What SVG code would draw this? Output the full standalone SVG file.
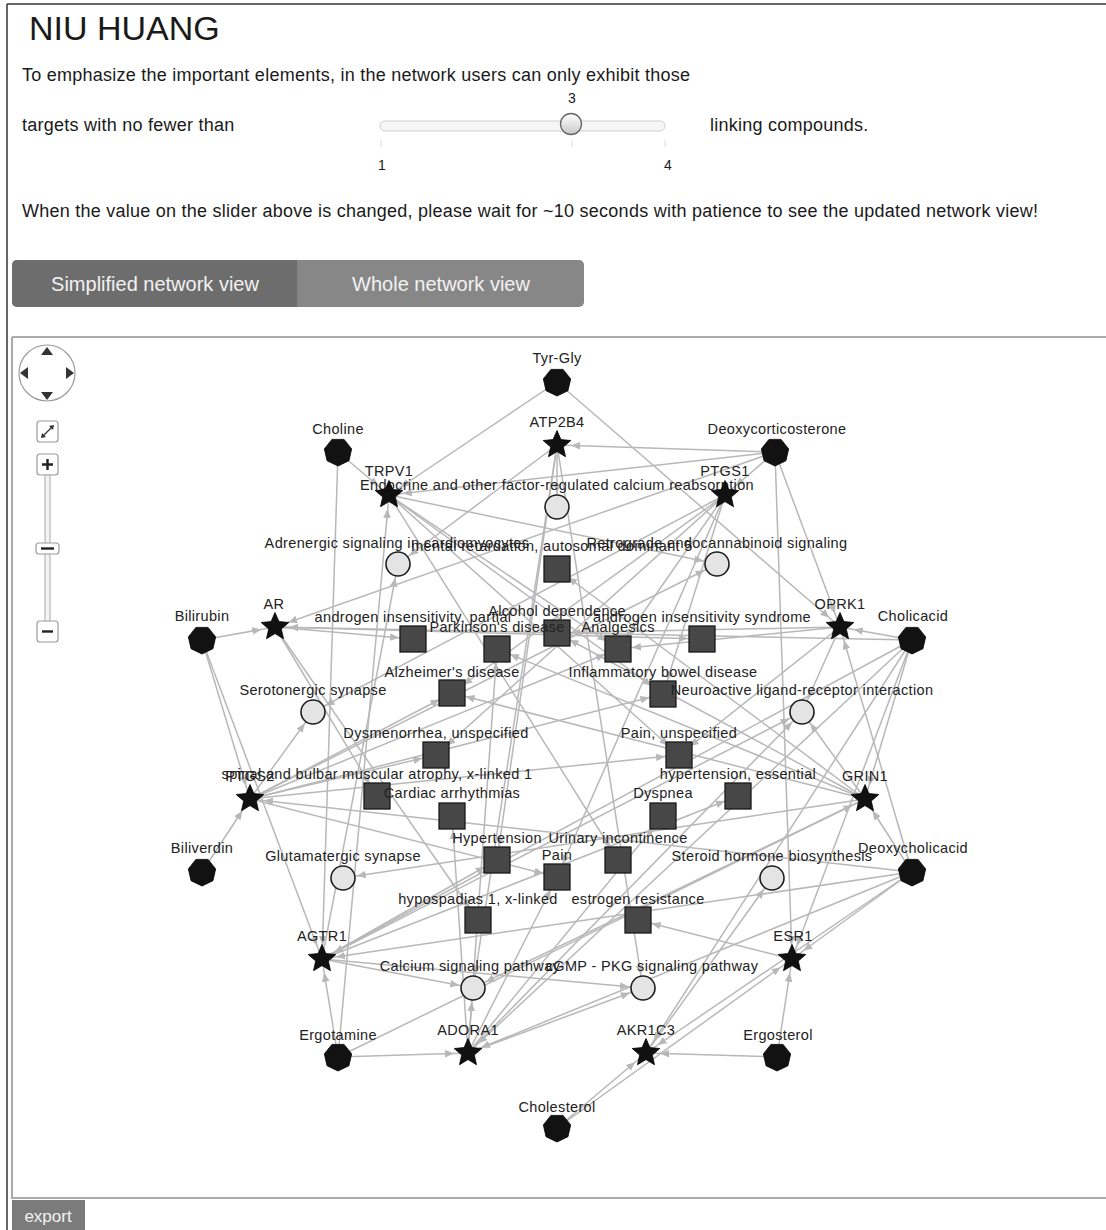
<svg xmlns="http://www.w3.org/2000/svg" xmlns:xlink="http://www.w3.org/1999/xlink" width="1106" height="1230" viewBox="0 0 1106 1230">
  <style>
    .ui { font-family: "Liberation Sans", Arial, sans-serif; fill: #1a1a1a; }
    .para { font-size: 18px; letter-spacing: 0.25px; }
    .lbl { font-family: "Liberation Sans", Arial, sans-serif; font-size: 14.5px; letter-spacing: 0.35px; fill: #222; text-anchor: middle; }
    .edge line { stroke: #b8b8b8; stroke-width: 1.5; marker-end: url(#ah); }
    .cpd { fill: #121212; stroke: #000; stroke-width: 0.8; }
    .tgt { fill: #111; stroke: #000; stroke-width: 0.8; }
    .pw { fill: #e4e4e4; stroke: #1e1e1e; stroke-width: 1.6; }
    .dz { fill: #474747; stroke: #1a1a1a; stroke-width: 1.3; }
    .btn { fill: #fff; stroke: #9a9a9a; stroke-width: 1.2; }
    .tab { font-family: "Liberation Sans", Arial, sans-serif; font-size: 20px; fill: #f2f2f2; text-anchor: middle; }
  </style>
  <defs>
    <marker id="ah" markerUnits="userSpaceOnUse" viewBox="0 0 30 10" refX="23" refY="5" markerWidth="30" markerHeight="10" orient="auto">
      <path d="M0,1.2 L9,5 L0,8.8 z" fill="#b8b8b8"/>
    </marker>
    <path id="hept" d="M0,14 L-10.94,8.73 L-13.65,-3.12 L-6.07,-12.61 L6.07,-12.61 L13.65,-3.12 L10.94,8.73 Z"/>
    <path id="star" d="M0,-14.5 L3.9,-5.4 L13.8,-4.5 L6.3,2 L8.5,11.7 L0,6.6 L-8.5,11.7 L-6.3,2 L-13.8,-4.5 L-3.9,-5.4 Z"/>
    <linearGradient id="thumb" x1="0" y1="0" x2="0" y2="1">
      <stop offset="0" stop-color="#ffffff"/>
      <stop offset="1" stop-color="#c8c8c8"/>
    </linearGradient>
  </defs>

  <rect x="0" y="0" width="1106" height="1230" fill="#fff"/>
  <!-- page frame -->
  <line x1="7" y1="4" x2="1106" y2="4" stroke="#333" stroke-width="1.5"/>
  <line x1="7" y1="4" x2="7" y2="1230" stroke="#333" stroke-width="1.5"/>

  <!-- header -->
  <g id="header">
    <text class="ui" x="29" y="40" font-size="34">NIU HUANG</text>
    <text class="ui para" x="22" y="81">To emphasize the important elements, in the network users can only exhibit those</text>
    <text class="ui para" x="22" y="131">targets with no fewer than</text>
    <text class="ui para" x="710" y="131">linking compounds.</text>
    <text class="ui para" x="22" y="217">When the value on the slider above is changed, please wait for ~10 seconds with patience to see the updated network view!</text>
  </g>

  <!-- threshold slider -->
  <g id="slider">
    <rect x="380" y="121" width="285" height="10" rx="5" fill="#f6f6f6" stroke="#cfcfcf" stroke-width="1"/>
    <line x1="381" y1="140" x2="381" y2="147" stroke="#ddd"/>
    <line x1="572" y1="140" x2="572" y2="147" stroke="#ddd"/>
    <line x1="665" y1="140" x2="665" y2="147" stroke="#ddd"/>
    <circle cx="571" cy="124" r="10.5" fill="url(#thumb)" stroke="#666" stroke-width="1.3"/>
    <text class="ui" x="572" y="103" font-size="14" text-anchor="middle">3</text>
    <text class="ui" x="382" y="170" font-size="14" text-anchor="middle">1</text>
    <text class="ui" x="668" y="170" font-size="14" text-anchor="middle">4</text>
  </g>

  <!-- view tabs -->
  <g id="tabs">
    <rect x="12" y="260" width="572" height="47" rx="5" fill="#878787"/>
    <path d="M17,260 H297 V307 H17 A5,5 0 0 1 12,302 V265 A5,5 0 0 1 17,260 Z" fill="#6d6d6d"/>
    <text class="tab" x="155" y="291">Simplified network view</text>
    <text class="tab" x="441" y="291">Whole network view</text>
  </g>

  <!-- network panel frame -->
  <line x1="12" y1="337" x2="1106" y2="337" stroke="#aaa" stroke-width="2"/>
  <line x1="12" y1="337" x2="12" y2="1199" stroke="#aaa" stroke-width="2"/>
  <line x1="12" y1="1198" x2="1106" y2="1198" stroke="#aaa" stroke-width="2"/>

  <!-- navigation controls -->
  <g id="navigator">
    <circle cx="47" cy="373" r="28" fill="#fff" stroke="#9a9a9a" stroke-width="1.2"/>
    <path d="M47,347 l-6,8 h12 z" fill="#333"/>
    <path d="M47,400 l-6,-8 h12 z" fill="#333"/>
    <path d="M20,373 l8,-6 v12 z" fill="#333"/>
    <path d="M74,373 l-8,-6 v12 z" fill="#333"/>
  </g>
  <g id="fit-button">
    <rect class="btn" x="37" y="421" width="21" height="21" rx="3"/>
    <line x1="43" y1="436" x2="52" y2="427" stroke="#333" stroke-width="1.2"/>
    <path d="M41,438 l1,-5 l4,4 z M54,425 l-1,5 l-4,-4 z" fill="#333"/>
  </g>
  <g id="zoom-in">
    <rect class="btn" x="37" y="454" width="21" height="21" rx="3"/>
    <path d="M42,464.5 h11 M47.5,459 v11" stroke="#222" stroke-width="2.4"/>
  </g>
  <g id="zoom-track">
    <rect x="45" y="475" width="5" height="147" fill="#f4f4f4" stroke="#aaa" stroke-width="1"/>
    <rect class="btn" x="36" y="543" width="23" height="11" rx="3"/>
    <line x1="41" y1="548.5" x2="54" y2="548.5" stroke="#222" stroke-width="2.4"/>
  </g>
  <g id="zoom-out">
    <rect class="btn" x="37" y="621" width="21" height="21" rx="3"/>
    <line x1="42" y1="631.5" x2="53" y2="631.5" stroke="#222" stroke-width="2.4"/>
  </g>

  <!-- connectors: compounds to targets, targets to diseases and pathways -->
  <g id="edges" class="edge">
    <line x1="557" y1="382" x2="389" y2="495"/>
    <line x1="557" y1="382" x2="840" y2="627"/>
    <line x1="338" y1="452" x2="389" y2="495"/>
    <line x1="338" y1="452" x2="322" y2="959"/>
    <line x1="775" y1="452" x2="557" y2="445"/>
    <line x1="775" y1="452" x2="725" y2="495"/>
    <line x1="775" y1="452" x2="840" y2="627"/>
    <line x1="775" y1="452" x2="792" y2="959"/>
    <line x1="775" y1="452" x2="275" y2="627"/>
    <line x1="775" y1="452" x2="389" y2="495"/>
    <line x1="202" y1="640" x2="275" y2="627"/>
    <line x1="202" y1="640" x2="250" y2="799"/>
    <line x1="202" y1="640" x2="322" y2="959"/>
    <line x1="202" y1="872" x2="250" y2="799"/>
    <line x1="912" y1="640" x2="275" y2="627"/>
    <line x1="912" y1="640" x2="840" y2="627"/>
    <line x1="912" y1="640" x2="865" y2="799"/>
    <line x1="912" y1="640" x2="646" y2="1053"/>
    <line x1="912" y1="640" x2="792" y2="959"/>
    <line x1="912" y1="640" x2="468" y2="1053"/>
    <line x1="912" y1="640" x2="322" y2="959"/>
    <line x1="912" y1="872" x2="865" y2="799"/>
    <line x1="912" y1="872" x2="840" y2="627"/>
    <line x1="912" y1="872" x2="792" y2="959"/>
    <line x1="912" y1="872" x2="646" y2="1053"/>
    <line x1="912" y1="872" x2="468" y2="1053"/>
    <line x1="912" y1="872" x2="322" y2="959"/>
    <line x1="912" y1="872" x2="250" y2="799"/>
    <line x1="338" y1="1057" x2="468" y2="1053"/>
    <line x1="338" y1="1057" x2="322" y2="959"/>
    <line x1="338" y1="1057" x2="389" y2="495"/>
    <line x1="338" y1="1057" x2="865" y2="799"/>
    <line x1="777" y1="1057" x2="646" y2="1053"/>
    <line x1="777" y1="1057" x2="792" y2="959"/>
    <line x1="557" y1="1128" x2="646" y2="1053"/>
    <line x1="557" y1="1128" x2="792" y2="959"/>

    <line x1="275" y1="627" x2="413" y2="639"/>
    <line x1="275" y1="627" x2="702" y2="639"/>
    <line x1="275" y1="627" x2="377" y2="796"/>
    <line x1="275" y1="627" x2="478" y2="920"/>
    <line x1="557" y1="445" x2="557" y2="507"/>
    <line x1="557" y1="445" x2="473" y2="988"/>
    <line x1="557" y1="445" x2="643" y2="988"/>
    <line x1="557" y1="445" x2="398" y2="564"/>
    <line x1="557" y1="445" x2="497" y2="860"/>
    <line x1="389" y1="495" x2="618" y2="860"/>
    <line x1="389" y1="495" x2="663" y2="694"/>
    <line x1="389" y1="495" x2="679" y2="755"/>
    <line x1="389" y1="495" x2="618" y2="649"/>
    <line x1="389" y1="495" x2="717" y2="564"/>
    <line x1="725" y1="495" x2="618" y2="649"/>
    <line x1="725" y1="495" x2="557" y2="877"/>
    <line x1="725" y1="495" x2="436" y2="755"/>
    <line x1="725" y1="495" x2="313" y2="712"/>
    <line x1="725" y1="495" x2="452" y2="693"/>
    <line x1="725" y1="495" x2="663" y2="694"/>
    <line x1="840" y1="627" x2="802" y2="712"/>
    <line x1="840" y1="627" x2="618" y2="649"/>
    <line x1="840" y1="627" x2="557" y2="633"/>
    <line x1="840" y1="627" x2="679" y2="755"/>
    <line x1="250" y1="799" x2="313" y2="712"/>
    <line x1="250" y1="799" x2="436" y2="755"/>
    <line x1="250" y1="799" x2="452" y2="693"/>
    <line x1="250" y1="799" x2="557" y2="877"/>
    <line x1="250" y1="799" x2="618" y2="649"/>
    <line x1="250" y1="799" x2="663" y2="694"/>
    <line x1="250" y1="799" x2="717" y2="564"/>
    <line x1="250" y1="799" x2="679" y2="755"/>
    <line x1="865" y1="799" x2="802" y2="712"/>
    <line x1="865" y1="799" x2="343" y2="878"/>
    <line x1="865" y1="799" x2="452" y2="693"/>
    <line x1="865" y1="799" x2="557" y2="633"/>
    <line x1="865" y1="799" x2="557" y2="569"/>
    <line x1="865" y1="799" x2="497" y2="649"/>
    <line x1="865" y1="799" x2="473" y2="988"/>
    <line x1="322" y1="959" x2="473" y2="988"/>
    <line x1="322" y1="959" x2="643" y2="988"/>
    <line x1="322" y1="959" x2="398" y2="564"/>
    <line x1="322" y1="959" x2="497" y2="860"/>
    <line x1="322" y1="959" x2="738" y2="796"/>
    <line x1="322" y1="959" x2="802" y2="712"/>
    <line x1="792" y1="959" x2="638" y2="920"/>
    <line x1="468" y1="1053" x2="473" y2="988"/>
    <line x1="468" y1="1053" x2="643" y2="988"/>
    <line x1="468" y1="1053" x2="802" y2="712"/>
    <line x1="468" y1="1053" x2="452" y2="816"/>
    <line x1="468" y1="1053" x2="663" y2="816"/>
    <line x1="468" y1="1053" x2="557" y2="877"/>
    <line x1="468" y1="1053" x2="497" y2="649"/>
    <line x1="646" y1="1053" x2="772" y2="878"/>
  </g>

  <!-- diseases -->
  <g id="n-mr5"><rect class="dz" x="544" y="556" width="26" height="26"/><text class="lbl" x="552" y="551">mental retardation, autosomal dominant 5</text></g>
  <g id="n-aip"><rect class="dz" x="400" y="626" width="26" height="26"/><text class="lbl" x="413" y="622">androgen insensitivity, partial</text></g>
  <g id="n-ais"><rect class="dz" x="689" y="626" width="26" height="26"/><text class="lbl" x="702" y="622">androgen insensitivity syndrome</text></g>
  <g id="n-alc"><rect class="dz" x="544" y="620" width="26" height="26"/><text class="lbl" x="557" y="616">Alcohol dependence</text></g>
  <g id="n-park"><rect class="dz" x="484" y="636" width="26" height="26"/><text class="lbl" x="497" y="632">Parkinson's disease</text></g>
  <g id="n-analg"><rect class="dz" x="605" y="636" width="26" height="26"/><text class="lbl" x="618" y="632">Analgesics</text></g>
  <g id="n-alz"><rect class="dz" x="439" y="680" width="26" height="26"/><text class="lbl" x="452" y="677">Alzheimer's disease</text></g>
  <g id="n-ibd"><rect class="dz" x="650" y="681" width="26" height="26"/><text class="lbl" x="663" y="677">Inflammatory bowel disease</text></g>
  <g id="n-dysm"><rect class="dz" x="423" y="742" width="26" height="26"/><text class="lbl" x="436" y="738">Dysmenorrhea, unspecified</text></g>
  <g id="n-painu"><rect class="dz" x="666" y="742" width="26" height="26"/><text class="lbl" x="679" y="738">Pain, unspecified</text></g>
  <g id="n-sbma"><rect class="dz" x="364" y="783" width="26" height="26"/><text class="lbl" x="377" y="779">spinal and bulbar muscular atrophy, x-linked 1</text></g>
  <g id="n-hte"><rect class="dz" x="725" y="783" width="26" height="26"/><text class="lbl" x="738" y="779">hypertension, essential</text></g>
  <g id="n-card"><rect class="dz" x="439" y="803" width="26" height="26"/><text class="lbl" x="452" y="798">Cardiac arrhythmias</text></g>
  <g id="n-dysp"><rect class="dz" x="650" y="803" width="26" height="26"/><text class="lbl" x="663" y="798">Dyspnea</text></g>
  <g id="n-htn"><rect class="dz" x="484" y="847" width="26" height="26"/><text class="lbl" x="497" y="843">Hypertension</text></g>
  <g id="n-urin"><rect class="dz" x="605" y="847" width="26" height="26"/><text class="lbl" x="618" y="843">Urinary incontinence</text></g>
  <g id="n-pain"><rect class="dz" x="544" y="864" width="26" height="26"/><text class="lbl" x="557" y="860">Pain</text></g>
  <g id="n-hyp"><rect class="dz" x="465" y="907" width="26" height="26"/><text class="lbl" x="478" y="904">hypospadias 1, x-linked</text></g>
  <g id="n-estr"><rect class="dz" x="625" y="907" width="26" height="26"/><text class="lbl" x="638" y="904">estrogen resistance</text></g>

  <!-- pathways -->
  <g id="n-endo"><circle class="pw" cx="557" cy="507" r="12"/><text class="lbl" x="557" y="490">Endocrine and other factor-regulated calcium reabsorption</text></g>
  <g id="n-adren"><circle class="pw" cx="398" cy="564" r="12"/><text class="lbl" x="397" y="548">Adrenergic signaling in cardiomyocytes</text></g>
  <g id="n-retro"><circle class="pw" cx="717" cy="564" r="12"/><text class="lbl" x="717" y="548">Retrograde endocannabinoid signaling</text></g>
  <g id="n-sero"><circle class="pw" cx="313" cy="712" r="12"/><text class="lbl" x="313" y="695">Serotonergic synapse</text></g>
  <g id="n-neuro"><circle class="pw" cx="802" cy="712" r="12"/><text class="lbl" x="802" y="695">Neuroactive ligand-receptor interaction</text></g>
  <g id="n-glut"><circle class="pw" cx="343" cy="878" r="12"/><text class="lbl" x="343" y="861">Glutamatergic synapse</text></g>
  <g id="n-steroid"><circle class="pw" cx="772" cy="878" r="12"/><text class="lbl" x="772" y="861">Steroid hormone biosynthesis</text></g>
  <g id="n-calc"><circle class="pw" cx="473" cy="988" r="12"/><text class="lbl" x="470" y="971">Calcium signaling pathway</text></g>
  <g id="n-cgmp"><circle class="pw" cx="643" cy="988" r="12"/><text class="lbl" x="652" y="971">cGMP - PKG signaling pathway</text></g>

  <!-- targets -->
  <g id="n-atp2b4"><use href="#star" class="tgt" x="557" y="445"/><text class="lbl" x="557" y="427">ATP2B4</text></g>
  <g id="n-trpv1"><use href="#star" class="tgt" x="389" y="495"/><text class="lbl" x="389" y="476">TRPV1</text></g>
  <g id="n-ptgs1"><use href="#star" class="tgt" x="725" y="495"/><text class="lbl" x="725" y="476">PTGS1</text></g>
  <g id="n-ar"><use href="#star" class="tgt" x="275" y="627"/><text class="lbl" x="274" y="609">AR</text></g>
  <g id="n-oprk1"><use href="#star" class="tgt" x="840" y="627"/><text class="lbl" x="840" y="609">OPRK1</text></g>
  <g id="n-ptgs2"><use href="#star" class="tgt" x="250" y="799"/><text class="lbl" x="250" y="781">PTGS2</text></g>
  <g id="n-grin1"><use href="#star" class="tgt" x="865" y="799"/><text class="lbl" x="865" y="781">GRIN1</text></g>
  <g id="n-agtr1"><use href="#star" class="tgt" x="322" y="959"/><text class="lbl" x="322" y="941">AGTR1</text></g>
  <g id="n-esr1"><use href="#star" class="tgt" x="792" y="959"/><text class="lbl" x="793" y="941">ESR1</text></g>
  <g id="n-adora1"><use href="#star" class="tgt" x="468" y="1053"/><text class="lbl" x="468" y="1035">ADORA1</text></g>
  <g id="n-akr1c3"><use href="#star" class="tgt" x="646" y="1053"/><text class="lbl" x="646" y="1035">AKR1C3</text></g>

  <!-- compounds -->
  <g id="n-tyrgly"><use href="#hept" class="cpd" x="557" y="382"/><text class="lbl" x="557" y="363">Tyr-Gly</text></g>
  <g id="n-choline"><use href="#hept" class="cpd" x="338" y="452"/><text class="lbl" x="338" y="434">Choline</text></g>
  <g id="n-deoxycorticosterone"><use href="#hept" class="cpd" x="775" y="452"/><text class="lbl" x="777" y="434">Deoxycorticosterone</text></g>
  <g id="n-bilirubin"><use href="#hept" class="cpd" x="202" y="640"/><text class="lbl" x="202" y="621">Bilirubin</text></g>
  <g id="n-cholicacid"><use href="#hept" class="cpd" x="912" y="640"/><text class="lbl" x="913" y="621">Cholicacid</text></g>
  <g id="n-biliverdin"><use href="#hept" class="cpd" x="202" y="872"/><text class="lbl" x="202" y="853">Biliverdin</text></g>
  <g id="n-deoxycholicacid"><use href="#hept" class="cpd" x="912" y="872"/><text class="lbl" x="913" y="853">Deoxycholicacid</text></g>
  <g id="n-ergotamine"><use href="#hept" class="cpd" x="338" y="1057"/><text class="lbl" x="338" y="1040">Ergotamine</text></g>
  <g id="n-ergosterol"><use href="#hept" class="cpd" x="777" y="1057"/><text class="lbl" x="778" y="1040">Ergosterol</text></g>
  <g id="n-cholesterol"><use href="#hept" class="cpd" x="557" y="1128"/><text class="lbl" x="557" y="1112">Cholesterol</text></g>

  <!-- export button -->
  <g id="export">
    <rect x="12" y="1200" width="73" height="30" fill="#7b7b7b"/>
    <text class="ui" x="48" y="1222" font-size="17" text-anchor="middle" style="fill:#f2f2f2">export</text>
  </g>
</svg>
